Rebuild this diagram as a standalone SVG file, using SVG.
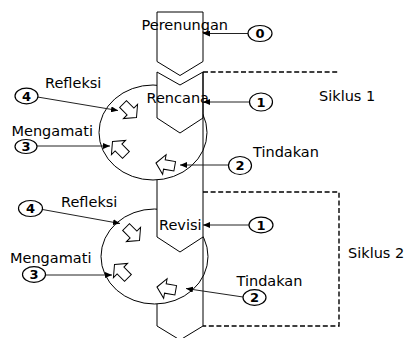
<svg xmlns="http://www.w3.org/2000/svg" width="406" height="338" viewBox="0 0 406 338">
<style>
.ln{fill:none;stroke:#000;stroke-width:1}
.wf{fill:#fff;stroke:#000;stroke-width:1}
.dash{fill:none;stroke:#000;stroke-width:1.4;stroke-dasharray:5 2.6}
.t{font-family:"DejaVu Sans",Verdana,sans-serif;font-size:14.5px;fill:#000}
.n{font-family:"DejaVu Sans",Verdana,sans-serif;font-size:13px;font-weight:bold;fill:#000;text-anchor:middle}
.c{fill:#fff;stroke:#000;stroke-width:1.2}
.con{fill:none;stroke:#222;stroke-width:1;marker-end:url(#ah)}
.ba{fill:#fff;stroke:#000;stroke-width:1;stroke-linejoin:miter}
</style>
<defs>
<marker id="ah" markerUnits="userSpaceOnUse" markerWidth="8" markerHeight="6" refX="7" refY="3" orient="auto">
<path d="M0,0 L7,3 L0,6 Z" fill="#000"/>
</marker>
<path id="blk" d="M0,0 L8.5,-10 L8.5,-4.8 L19,-4.8 L19,4.8 L8.5,4.8 L8.5,10 Z"/>
</defs>

<g id="siklus">
<path class="dash" d="M203,72 H339"/>
<path class="dash" d="M203,192 H339 V326 H203"/>
</g>

<g id="cycle1">
<ellipse class="wf" cx="153" cy="132.5" rx="54" ry="47.5"/>
</g>
<g id="rencana">
<path class="wf" d="M157,72 L180,85 L203,72 L203,118 L180,133 L157,118 Z"/>
</g>
<g id="cycle2">
<ellipse class="wf" cx="154.5" cy="256.5" rx="53.5" ry="47.5"/>
</g>
<g id="revisi">
<path d="M157,182 L157,237 L180,252 L203,237 L203,182 Z" fill="#fff"/>
<path class="ln" d="M157,180 L157,237 L180,252 L203,237"/>
</g>
<g id="lanjutan">
<path class="ln" d="M157,304 L157,326 L180,340 L203,326"/>
</g>
<g id="perenungan">
<path class="wf" d="M157,12 L203,12 L203,61.5 L180,75.5 L157,61.5 Z"/>
</g>
<path class="ln" d="M203,72 V326"/>

<g id="arah">
<use href="#blk" class="ba" transform="translate(136.5,117.5) rotate(-135)"/>
<use href="#blk" class="ba" transform="translate(112.5,141.5) rotate(45)"/>
<use href="#blk" class="ba" transform="translate(156,163) rotate(10)"/>
<use href="#blk" class="ba" transform="translate(139.5,240.5) rotate(-135)"/>
<use href="#blk" class="ba" transform="translate(114.5,264.5) rotate(45)"/>
<use href="#blk" class="ba" transform="translate(157,287) rotate(10)"/>
</g>

<g id="labels">
<text class="t" x="141.5" y="30">Perenungan</text>
<text class="t" x="146.5" y="103" font-size="13">Rencana</text>
<text class="t" x="159" y="230">Revisi</text>
<text class="t" x="45" y="88">Refleksi</text>
<text class="t" x="11.5" y="135.5">Mengamati</text>
<text class="t" x="253" y="157">Tindakan</text>
<text class="t" x="319" y="101">Siklus 1</text>
<text class="t" x="61" y="207">Refleksi</text>
<text class="t" x="10" y="263">Mengamati</text>
<text class="t" x="348" y="258">Siklus 2</text>
<text class="t" x="236.5" y="286">Tindakan</text>
</g>

<g id="connectors">
<path class="con" d="M248,33.5 H203"/>
<path class="con" d="M249.5,102 H203"/>
<path class="con" d="M228.5,165 H180"/>
<path class="con" d="M37.5,97 L118,110.5"/>
<path class="con" d="M37,146 L110,146"/>
<path class="con" d="M42.5,209.5 L120,223.5"/>
<path class="con" d="M45.5,275 H112"/>
<path class="con" d="M249,225 H203"/>
<path class="con" d="M243,297 L186,288.5"/>
</g>

<g id="n0"><ellipse class="c" cx="260" cy="33.5" rx="12" ry="8"/><text class="n" x="260" y="38.2">0</text></g>
<g id="n1a"><ellipse class="c" cx="261" cy="102" rx="11.5" ry="9"/><text class="n" x="261" y="106.7">1</text></g>
<g id="n2a"><ellipse class="c" cx="240" cy="165.5" rx="11.5" ry="9"/><text class="n" x="240" y="170.2">2</text></g>
<g id="n4a"><ellipse class="c" cx="26.5" cy="96" rx="11.5" ry="7.8"/><text class="n" x="26.5" y="100.7">4</text></g>
<g id="n3a"><ellipse class="c" cx="26" cy="146.5" rx="11" ry="7"/><text class="n" x="26" y="151.2">3</text></g>
<g id="n4b"><ellipse class="c" cx="30.5" cy="208.5" rx="12" ry="8"/><text class="n" x="30.5" y="213.2">4</text></g>
<g id="n3b"><ellipse class="c" cx="34" cy="274.5" rx="11.5" ry="7.8"/><text class="n" x="34" y="279.2">3</text></g>
<g id="n1b"><ellipse class="c" cx="261" cy="225" rx="12" ry="7.8"/><text class="n" x="261" y="229.7">1</text></g>
<g id="n2b"><ellipse class="c" cx="254.5" cy="297.5" rx="11.5" ry="7.8"/><text class="n" x="254.5" y="302.2">2</text></g>
</svg>
